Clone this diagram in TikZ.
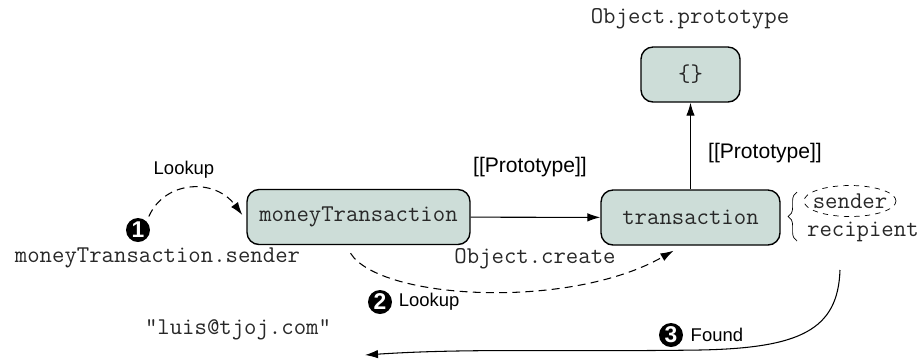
\documentclass[tikz,border=0pt]{standalone}
\usepackage{fontspec}
\setmainfont{Liberation Sans}
\usetikzlibrary{arrows.meta, positioning, calc, decorations.pathreplacing}
\definecolor{boxfill}{RGB}{205,221,216}
\definecolor{codegray}{RGB}{40,40,40}
\tikzset{
  objbox/.style={draw, thick, rounded corners=0.24cm, fill=boxfill, minimum height=1.1cm, text=codegray, font=\ttfamily\fontsize{13.7}{15}\selectfont},
  code/.style={font=\ttfamily\fontsize{13.7}{15}\selectfont, text=codegray, inner sep=1pt},
  note/.style={font=\fontsize{10.5}{12}\selectfont, inner sep=1pt},
  protolabel/.style={font=\fontsize{12}{14}\selectfont, inner sep=1pt},
  stepnum/.style={circle, fill=black, text=white, inner sep=0pt, minimum size=0.48cm, font=\bfseries\fontsize{13}{13}\selectfont},
  myarrow/.style={-{Latex[length=2.6mm, width=1.7mm]}, semithick},
  lookup/.style={myarrow, dash pattern=on 4.5pt off 3pt}
}

\begin{document}
\begin{tikzpicture}[x=0.02cm, y=0.02cm]
  \useasboundingbox (0,0) rectangle (921,-360);

  % Objects of the prototype chain
  \node[objbox, minimum width=4.46cm] (money) at (358.5,-217) {moneyTransaction};
  \node[objbox, minimum width=3.58cm] (trans) at (690.5,-217.5) {transaction};
  \node[objbox, minimum width=1.98cm] (proto) at (690.5,-74.5) {\{\}};
  \node[code] (protoname) at (690,-19) {Object.prototype};

  % Code texts
  \node[code] (access) at (157.5,-258) {moneyTransaction.sender};
  \node[code] (result) at (238,-330) {"luis@tjoj.com"};
  \node[code] (create) at (535,-259) {Object.create};
  \node[code] (sender) at (850,-201) {sender};
  \node[code, anchor=west] (recipient) at (805,-232) {recipient};

  % Step markers and labels
  \node[stepnum] (one) at (138,-230) {1};
  \node[stepnum] (two) at (380,-302) {2};
  \node[stepnum] (three) at (671,-335) {3};
  \node[note] (lookupone) at (184,-170) {Lookup};
  \node[note, right=2.5pt of two] (lookuptwo) {Lookup};
  \node[note, right=3pt of three] (found) {Found};
  \node[protolabel] (protoup) at (765,-153) {[[Prototype]]};
  \node[protolabel] (protoright) at (530,-167) {[[Prototype]]};

  % Prototype links
  \draw[myarrow] (money) -- (trans);
  \draw[myarrow] (trans) -- (proto);

  % Own properties of transaction
  \draw[dashed] (sender) ellipse [x radius=46, y radius=15.5];
  \draw[decorate, decoration={brace, amplitude=5pt}] ($(recipient.west)+(-8,-9)$) -- ($(recipient.west)+(-8,40)$);

  % Lookup steps
  \draw[lookup, shorten <=3pt] (one.north east) .. controls (165,-180) and (215,-178) .. ($(money.west)+(-4,2)$);
  \draw[lookup] ($(money.south)+(-8,-8)$) .. controls (380,-300) and (570,-310) .. ($(trans.south)+(-17,-5)$);

  % Value found on transaction
  \coordinate (foundstart) at (840,-270);
  \coordinate (foundend) at (365,-355);
  \draw[myarrow] (foundstart) .. controls (838,-330) and (800,-348) .. (700,-350) .. controls (560,-352) and (470,-348) .. (foundend);
\end{tikzpicture}
\end{document}
